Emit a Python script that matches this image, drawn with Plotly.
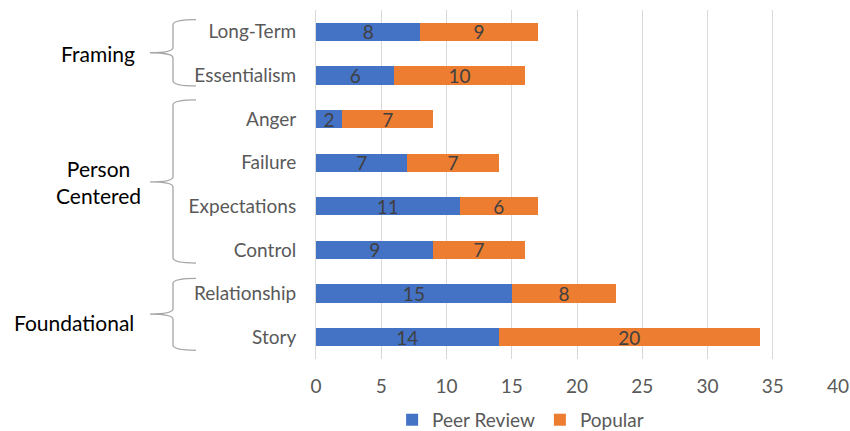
import plotly.graph_objects as go

categories = ["Story", "Relationship", "Control", "Expectations", "Failure", "Anger", "Essentialism", "Long-Term"]
peer_review = [14, 15, 9, 11, 7, 2, 6, 8]
popular = [20, 8, 7, 6, 7, 7, 10, 9]
x_ticks = [0, 5, 10, 15, 20, 25, 30, 35, 40]
groups = ["Framing", "Person<br>Centered", "Foundational"]

W, H = 850, 431
L, R, T, B = 316, 12, 10, 72
PW = W - L - R

def px(x):
    return (x - L) / PW

ypos = list(range(len(categories)))
FONT = "Lato"
BLUE = "#4472C4"
ORANGE = "#ED7D31"

fig = go.Figure()
for name, vals, col in [("Peer Review", peer_review, BLUE), ("Popular", popular, ORANGE)]:
    fig.add_trace(go.Bar(y=ypos, x=vals, orientation="h", name=name,
                         marker=dict(color=col, line=dict(width=0)), text=vals,
                         textposition="inside", insidetextanchor="middle", textangle=0,
                         constraintext="none", cliponaxis=False,
                         textfont=dict(color="#404040", size=19, family=FONT), width=0.42))

# braces: (top, bottom, tip) in y data units
braces = [(7.28, 5.76, 6.52), (5.44, 1.70, 3.56), (1.35, -0.30, 0.53)]
for top, bot, tip in braces:
    xv, xe, xt = px(173), px(196), px(150)
    c = 0.12
    path = (f"M {xe},{top} Q {xv},{top} {xv},{top-c} "
            f"L {xv},{tip+c} Q {xv},{tip} {xt},{tip} "
            f"Q {xv},{tip} {xv},{tip-c} L {xv},{bot+c} Q {xv},{bot} {xe},{bot}")
    fig.add_shape(type="path", path=path, xref="paper", yref="y",
                  line=dict(color="#a6a6a6", width=1.3))

group_pos = [(98, 6.5), (98, 3.55), (74, 0.34)]
for g, (gx, gy) in zip(groups, group_pos):
    fig.add_annotation(text=g, x=px(gx), y=gy, xref="paper", yref="y",
                       showarrow=False, xanchor="center", yanchor="middle",
                       font=dict(size=21, color="black", family=FONT))

fig.update_layout(
    width=W, height=H, barmode="stack",
    margin=dict(l=L, r=R, t=T, b=B, autoexpand=False),
    plot_bgcolor="white", paper_bgcolor="white",
    font=dict(family=FONT, color="#595959"),
    showlegend=True,
    legend=dict(orientation="h", x=0.392, xanchor="center", y=-0.12, yanchor="top",
                font=dict(size=19, color="#595959", family=FONT), traceorder="normal"),
    bargap=0.58,
)
fig.update_xaxes(range=[0, 40], tickvals=x_ticks, showgrid=True, gridcolor="#d9d9d9",
                 gridwidth=1, zeroline=False, showline=False, automargin=False,
                 tickfont=dict(size=19, color="#595959", family=FONT), ticklabelstandoff=14)
fig.update_yaxes(range=[-0.5, 7.5], tickvals=ypos, ticktext=categories, showgrid=False,
                 zeroline=False, showline=True, linecolor="#d9d9d9", linewidth=1, automargin=False,
                 tickfont=dict(size=19, color="#595959", family=FONT), ticklabelstandoff=15)

fig.write_html("out.html", config={"displayModeBar": False},
               post_script="document.body.style.margin='0';document.documentElement.style.margin='0';document.body.style.overflow='hidden';")
